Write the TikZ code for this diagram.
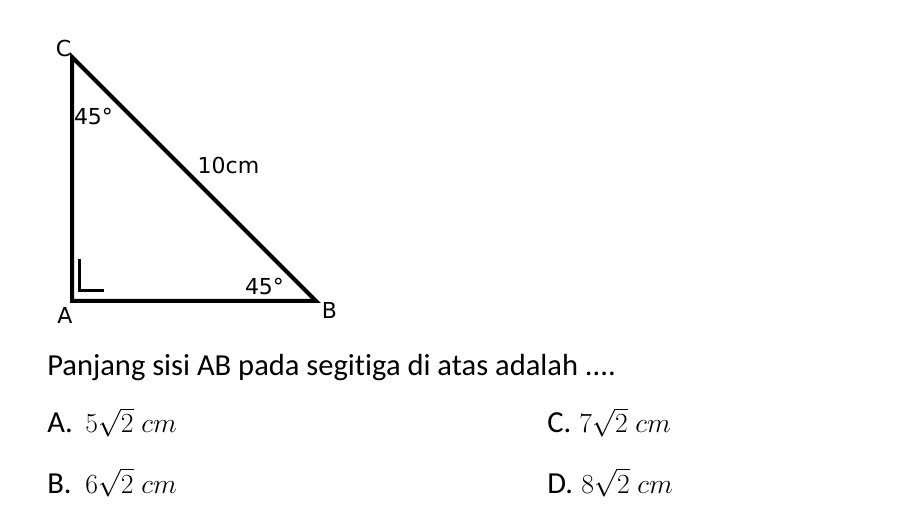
\documentclass[tikz,border=0pt]{standalone}
\usepackage{fontspec}
\setmainfont[Ligatures=NoCommon]{Carlito}
\newfontfamily\handfont{DejaVu Sans}
\begin{document}
\begin{tikzpicture}[x=0.75pt,y=-0.75pt,
  hand/.style={font=\handfont\fontsize{16.5}{19}\selectfont, inner sep=0pt},
  body/.style={font=\fontsize{22.9}{27}\selectfont, inner sep=0pt, anchor=base west},
  mth/.style={font=\fontsize{22.3}{27}\selectfont, inner sep=0pt, anchor=base west},
  side/.style={line width=3pt, line join=miter},
  rmark/.style={line width=2.25pt, line join=miter}]
\useasboundingbox (0,0) rectangle (906,530);
\coordinate (A) at (72,301);
\coordinate (B) at (316,301);
\coordinate (C) at (72,57);
\draw[side] (A) -- (B) -- (C) -- cycle;
\coordinate (r1) at (79.5,259);
\coordinate (r2) at (79.5,290.5);
\coordinate (r3) at (104,290.5);
\draw[rmark] (r1) -- (r2) -- (r3);
\node[hand] (lc) at (63.5,48.5) {C};
\node[hand] (la) at (65,315.5) {A};
\node[hand] (lb) at (329.5,310.5) {B};
\node[hand] (ac) at (93.5,116) {45°};
\node[hand] (ab) at (264.5,286) {45°};
\node[hand] (hyp) at (228.5,165.5) {10cm};
\node[body] (q) at (47,376) {Panjang sisi AB pada segitiga di atas adalah ....};
\node[body] (oa) at (47,433) {A.};
\node[mth] (ma) at (85,433) {$5\sqrt{2}\;cm$};
\node[body] (oc) at (547,433) {C.};
\node[mth] (mc) at (579,433) {$7\sqrt{2}\;cm$};
\node[body] (ob) at (47,493) {B.};
\node[mth] (mb) at (85,493) {$6\sqrt{2}\;cm$};
\node[body] (od) at (547,493) {D.};
\node[mth] (md) at (581,493) {$8\sqrt{2}\;cm$};
\end{tikzpicture}
\end{document}
